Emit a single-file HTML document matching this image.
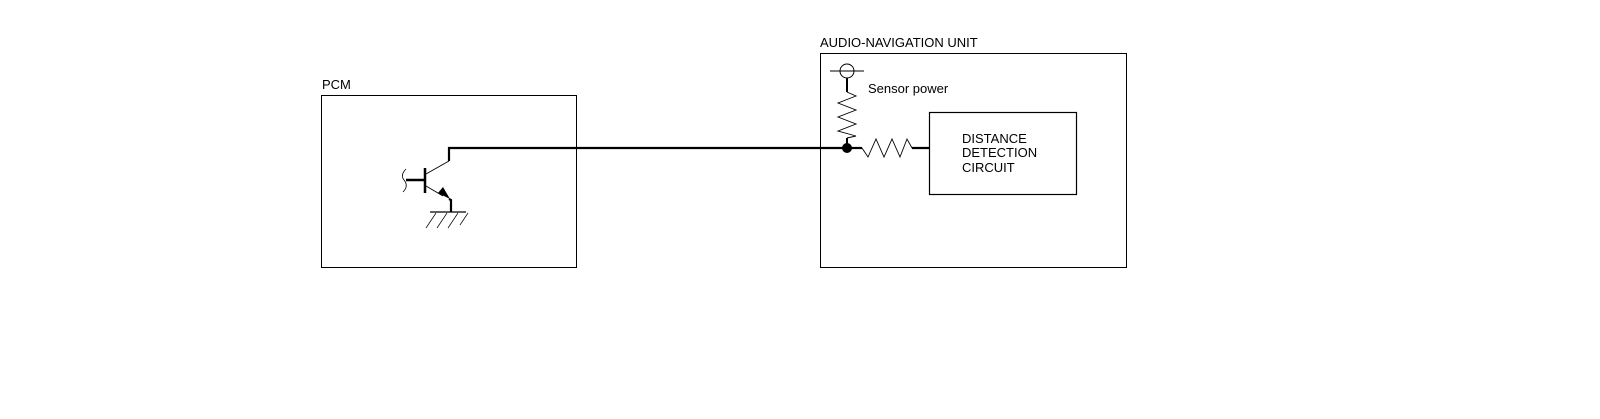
<!DOCTYPE html>
<html><head><style>body{margin:0;background:#fff}svg{display:block}text{font-family:"Liberation Sans",sans-serif;font-size:13px;fill:#000}</style></head>
<body>
<svg width="1600" height="419" viewBox="0 0 1600 419">
<rect x="321.5" y="95.5" width="255" height="172" fill="none" stroke="#000" stroke-width="1"/>
<text x="322" y="89">PCM</text>
<rect x="820.5" y="53.5" width="306" height="214" fill="none" stroke="#000" stroke-width="1"/>
<text x="820" y="47">AUDIO-NAVIGATION UNIT</text>
<path d="M406 180 H425 M425 168 V193" stroke="#000" stroke-width="2.5" fill="none"/>
<path d="M406 169 q-6 6 -2 11 q5 6 -1 12" stroke="#000" stroke-width="0.8" fill="none"/>
<path d="M426 174 L449 161 M426 186 L443 196" stroke="#000" stroke-width="0.9" fill="none"/>
<path d="M449 161 V148 H847" stroke="#000" stroke-width="2.2" fill="none"/>
<polygon points="450,199 438,193 443,187" fill="#000"/>
<path d="M449 199 L451 200 V212" stroke="#000" stroke-width="2.2" fill="none"/>
<path d="M430 212 H466" stroke="#000" stroke-width="1.2"/>
<path d="M436 213 L426 228 M447 213 L437 228 M458 213 L448 228 M468 213 L460 225" stroke="#000" stroke-width="0.7"/>
<circle cx="847" cy="71" r="7" fill="none" stroke="#000" stroke-width="1"/>
<path d="M830 71 H864" stroke="#000" stroke-width="1"/>
<path d="M847 78 V92" stroke="#000" stroke-width="2"/>
<path d="M847 92 L856 96 L838 103 L856 110 L838 117 L856 124 L838 131 L856 136 L847 138" stroke="#000" stroke-width="0.9" fill="none"/>
<path d="M847 138 V148" stroke="#000" stroke-width="2"/>
<circle cx="847" cy="148" r="5" fill="#000"/>
<path d="M847 148 H862" stroke="#000" stroke-width="2.2"/>
<path d="M862 148 L868 157 L876 139 L884 157 L892 139 L900 157 L907 139 L912 148" stroke="#000" stroke-width="0.9" fill="none"/>
<path d="M912 148 H930" stroke="#000" stroke-width="2.2"/>
<text x="868" y="93">Sensor power</text>
<rect x="929.5" y="112.5" width="147" height="82" fill="none" stroke="#000" stroke-width="1.2"/>
<text x="962" y="143">DISTANCE</text>
<text x="962" y="157">DETECTION</text>
<text x="962" y="172">CIRCUIT</text>
</svg>
</body></html>
